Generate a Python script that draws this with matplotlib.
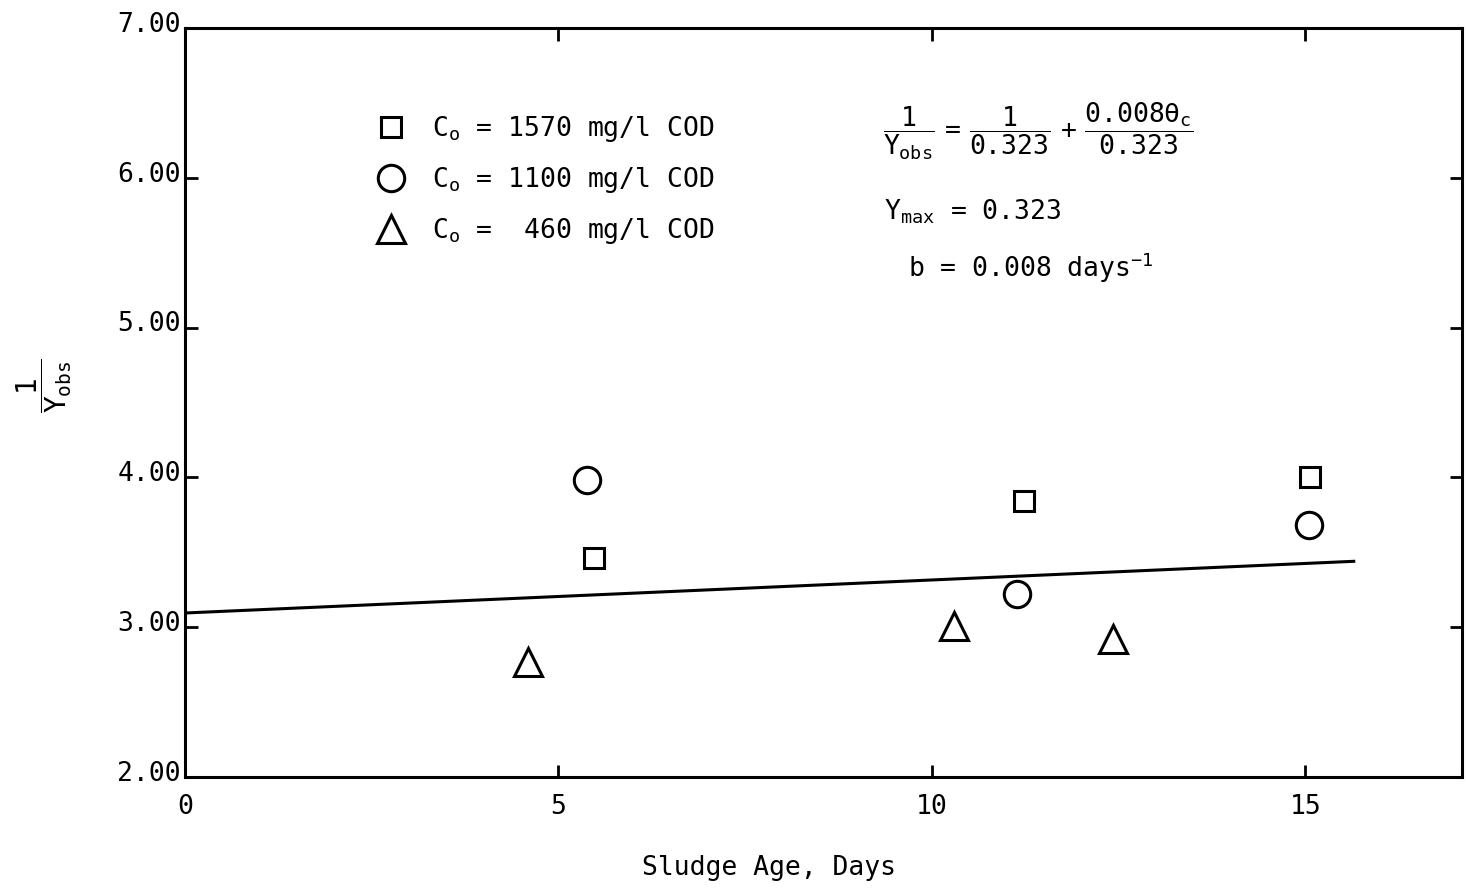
import matplotlib
matplotlib.use("Agg")
import matplotlib.pyplot as plt
import matplotlib.transforms as mtransforms

plt.rcParams['font.family'] = ['DejaVu Sans Mono', 'DejaVu Sans']
plt.rcParams['mathtext.fontset'] = 'custom'
plt.rcParams['mathtext.rm'] = 'DejaVu Sans Mono'
plt.rcParams['mathtext.it'] = 'DejaVu Sans Mono'
plt.rcParams['mathtext.bf'] = 'DejaVu Sans Mono'

# data
sq_x = [5.48, 11.24, 15.07]        # Co = 1570 mg/l COD
sq_y = [3.46, 3.84, 4.00]
ci_x = [5.38, 11.14, 15.05]        # Co = 1100 mg/l COD
ci_y = [3.98, 3.22, 3.68]
tr_x = [4.59, 10.30, 12.43]        # Co = 460 mg/l COD
tr_y = [2.77, 3.01, 2.92]
fit_x = [0.0, 15.65]
fit_y = [3.095, 3.44]

x_ticks = [0, 5, 10, 15]
y_ticks = [2, 3, 4, 5, 6, 7]
y_tick_labels = ["2.00", "3.00", "4.00", "5.00", "6.00", "7.00"]

fig = plt.figure(figsize=(14.66, 8.91), dpi=100)
ax = fig.add_axes([0.1262, 0.1279, 0.8711, 0.8407])

ax.plot(fit_x, fit_y, color="black", lw=2.2)
ax.plot(sq_x, sq_y, ls="none", marker="s", ms=14, mfc="white", mec="black", mew=2.2,
        label=r"C$_\mathrm{o}$ = 1570 mg/l COD")
ax.plot(ci_x, ci_y, ls="none", marker="o", ms=19, mfc="white", mec="black", mew=2.2,
        label=r"C$_\mathrm{o}$ = 1100 mg/l COD")
ax.plot(tr_x, tr_y, ls="none", marker="^", ms=20, mfc="white", mec="black", mew=2.2,
        label=r"C$_\mathrm{o}$ =  460 mg/l COD")

ax.set_xlim(0, 17.1)
ax.set_ylim(2, 7)
ax.set_xticks(x_ticks)
ax.set_yticks(y_ticks)
ax.set_yticklabels(y_tick_labels)

for s in ax.spines.values():
    s.set_linewidth(2.2)
ax.tick_params(axis="both", direction="in", length=9, width=2, labelsize=19,
               top=True, right=True)
ax.tick_params(axis="x", pad=12)
ax.tick_params(axis="y", pad=3)
off = mtransforms.ScaledTranslation(0, 4.5 / 72, fig.dpi_scale_trans)
for lab in ax.get_yticklabels():
    lab.set_transform(lab.get_transform() + off)

ax.set_xlabel("Sludge Age, Days", fontsize=19)
ax.xaxis.set_label_coords(0.457, -0.104)
ax.set_ylabel(r"$\dfrac{1}{Y_{obs}}$", fontsize=20, va="center", ha="center")
ax.yaxis.set_label_coords(-0.110, 0.523)

ax.legend(loc="upper left", bbox_to_anchor=(0.141, 0.903), frameon=False,
          fontsize=19, handletextpad=1.05, labelspacing=0.8, handlelength=1.0,
          borderpad=0)

ax.text(0.668, 0.862,
        r"$\dfrac{1}{Y_{obs}}\ =\ \dfrac{1}{0.323}\ +\ \dfrac{0.008\theta_c}{0.323}$",
        transform=ax.transAxes, ha="center", va="center", fontsize=19)
ax.text(0.547, 0.744, r"Y$_{\mathrm{max}}$ = 0.323", transform=ax.transAxes,
        ha="left", va="baseline", fontsize=19)
ax.text(0.566, 0.668, r"b = 0.008 days$^{-1}$", transform=ax.transAxes,
        ha="left", va="baseline", fontsize=19)

fig.savefig("out.png", dpi=100)
